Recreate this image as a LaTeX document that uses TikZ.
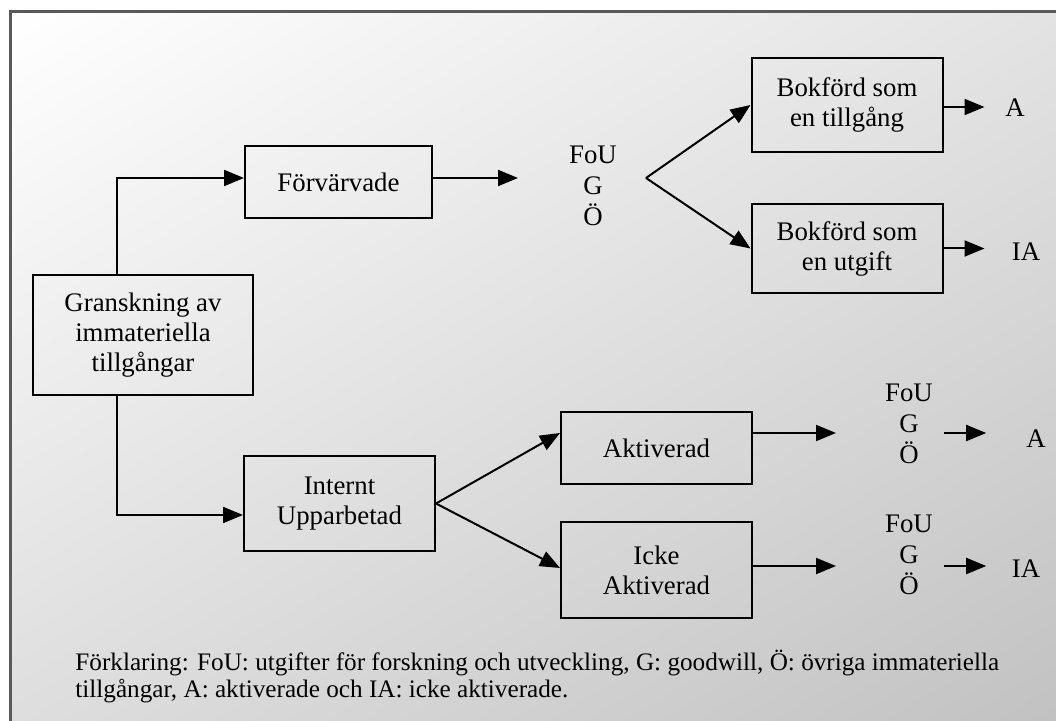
\documentclass[tikz,border=0pt]{standalone}
\usepackage{fontspec}
\setmainfont{Liberation Serif}
\usetikzlibrary{arrows.meta,calc,shadings}
\begin{document}
\begin{tikzpicture}[x=0.5pt,y=-0.5pt]
	% Stilar för rutor, pilar och texter
	\tikzset{ ruta/.style={draw, line width=1pt, minimum width=95.5pt, align=center, inner sep=2pt, font=\fontsize{13.4}{15}\selectfont},
		pil/.style={line width=1pt, -{Triangle[length=10pt,width=8pt]}},
		etikett/.style={align=center, inner sep=0pt, font=\fontsize{13.4}{15.5}\selectfont} }
	\useasboundingbox (0,0) rectangle (1056,721);
	\fill[white] (0,0) rectangle (1056,721);
	\shade[upper left=white, upper right=black!11, lower left=black!13, lower right=black!24] (10,12) rectangle (1056,721);
	\draw[line width=1.5pt, black!65] (1060,12) -- (10,12) -- (10,725);
	% rutor
	\node[ruta, minimum width=110pt, minimum height=60pt] (gransk) at (143,335) {Granskning av\\immateriella\\tillgångar};
	\node[ruta, minimum width=93.5pt, minimum height=36pt] (forv) at (338.5,182) {Förvärvade};
	\node[ruta, minimum height=47.5pt] (intern) at (339.5,503.5) {Internt\\Upparbetad};
	\node[ruta, minimum height=47pt] (tillg) at (847,105) {Bokförd som\\en tillgång};
	\node[ruta, minimum height=44.5pt] (utg) at (847,248.5) {Bokförd som\\en utgift};
	\node[ruta, minimum height=36pt] (akt) at (656.5,448) {Aktiverad};
	\node[ruta, minimum height=48pt] (icke) at (656.5,570) {Icke\\Aktiverad};
	% texter
	\node[etikett] (fou1) at (593,186) {FoU\\G\\Ö};
	\node[etikett] (fou2) at (909,424) {FoU\\G\\Ö};
	\node[etikett] (fou3) at (909,555) {FoU\\G\\Ö};
	\node[etikett] (a1) at (1015,108) {A};
	\node[etikett] (ia1) at (1026,252) {IA};
	\node[etikett] (a2) at (1036,439) {A};
	\node[etikett] (ia2) at (1026,569) {IA};
	\node[anchor=north west, align=left, inner sep=0pt, font=\fontsize{12.6}{13.5}\selectfont] (forkl) at (75,650)
		{Förklaring: FoU: utgifter för forskning och utveckling, G: goodwill, Ö: övriga immateriella\\tillgångar, A: aktiverade och IA: icke aktiverade.};
	% pilar
	\coordinate (forvut) at (518,178);
	\coordinate (gren) at (646,178);
	\draw[pil] ($(gransk.north west)+(85,0)$) |- ($(forv.west)+(0,-4)$);
	\draw[pil] ($(gransk.south west)+(85,0)$) |- ($(intern.west)+(0,11.5)$);
	\draw[pil] (forv.east |- forvut) -- (forvut);
	\draw[pil] (gren) -- (tillg.west);
	\draw[pil] (gren) -- (utg.west);
	\draw[pil] ($(tillg.east)+(0,2)$) -- ++(41,0);
	\draw[pil] (utg.east) -- ++(41,0);
	\draw[pil] (intern.east) -- ($(akt.west)+(0,-15)$);
	\draw[pil] (intern.east) -- ($(icke.west)+(0,-2)$);
	\draw[pil] ($(akt.east)+(0,-15)$) -- ++(83,0);
	\draw[pil] ($(icke.east)+(0,-4)$) -- ++(83,0);
	\draw[pil] ($(fou2.east)+(11,9)$) -- ++(42,0);
	\draw[pil] ($(fou3.east)+(11,11)$) -- ++(42,0);
\end{tikzpicture}
\end{document}
